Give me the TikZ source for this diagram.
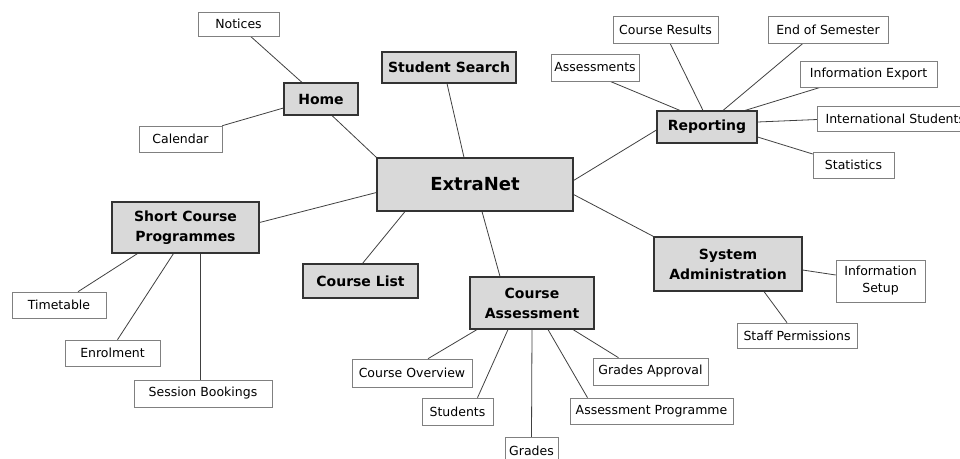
\documentclass[tikz,border=0pt]{standalone}
\usepackage{fontspec}
\setmainfont{DejaVu Sans}
\usetikzlibrary{shadows,backgrounds}
\tikzset{
  boxsize/.style 2 args={minimum width=#1, minimum height=#2},
  topic/.style={draw=black!80, line width=1.1pt, fill=gray!30, inner sep=0pt,
    align=center, font=\bfseries\fontsize{14}{20}\selectfont,
    drop shadow={shadow xshift=1.2pt, shadow yshift=-1.2pt, opacity=1, fill=black}},
  leaf/.style={draw=black!50, line width=0.6pt, fill=white, inner sep=0pt,
    align=center, font=\fontsize{12.5}{17}\selectfont,
    drop shadow={shadow xshift=0.9pt, shadow yshift=-1.2pt, opacity=1, fill=black!85}},
  link/.style={draw=black!75, line width=0.8pt}
}

\begin{document}
\begin{tikzpicture}[x=1pt, y=-1pt]
	\useasboundingbox (0,0) rectangle (960,458);

	\node[topic, boxsize={196}{53}, font=\bfseries\fontsize{18}{22}\selectfont] (extranet) at (475,184.5) {ExtraNet};
	\node[topic, boxsize={134}{31}] (search) at (449,67.5) {Student Search};
	\node[topic, boxsize={74}{32}] (home) at (321,99) {Home};
	\node[leaf, boxsize={81}{24}] (notices) at (238.5,24) {Notices};
	\node[leaf, boxsize={83}{26}] (calendar) at (180.5,139) {Calendar};

	\node[topic, boxsize={100}{32}] (reporting) at (707,127) {Reporting};
	\node[leaf, boxsize={105}{27}] (results) at (665.5,29.5) {Course Results};
	\node[leaf, boxsize={120}{27}] (semester) at (828,29.5) {End of Semester};
	\node[leaf, boxsize={88}{27}] (assessments) at (595,67.5) {Assessments};
	\node[leaf, boxsize={137}{26}] (export) at (868.5,74) {Information Export};
	\node[leaf, boxsize={156}{25}, anchor=west] (international) at (817,118.5) {International Students};
	\node[leaf, boxsize={81}{26}] (statistics) at (853.5,165) {Statistics};

	\node[topic, boxsize={148}{54}] (sysadmin) at (728,264) {System\\Administration};
	\node[leaf, boxsize={89}{42}] (setup) at (880.5,281) {Information\\Setup};
	\node[leaf, boxsize={120}{25}] (staff) at (797,335.5) {Staff Permissions};

	\node[topic, boxsize={124}{52}] (assessment) at (532,303) {Course\\Assessment};
	\node[topic, boxsize={115}{34}] (courselist) at (360.5,281) {Course List};
	\node[leaf, boxsize={120}{28}] (overview) at (412,373) {Course Overview};
	\node[leaf, boxsize={71}{27}] (students) at (457.5,411.5) {Students};
	\node[leaf, boxsize={53}{28}, anchor=north] (grades) at (531.5,437) {Grades};
	\node[leaf, boxsize={115}{27}] (approval) at (650.5,371.5) {Grades Approval};
	\node[leaf, boxsize={163}{26}] (programme) at (651.5,411) {Assessment Programme};

	\node[topic, boxsize={147}{51}] (shortcourse) at (185.5,227.5) {Short Course\\Programmes};
	\node[leaf, boxsize={94}{26}] (timetable) at (59,305) {Timetable};
	\node[leaf, boxsize={95}{26}] (enrolment) at (112.5,353) {Enrolment};
	\node[leaf, boxsize={138}{27}] (bookings) at (203,393.5) {Session Bookings};

	\begin{pgfonlayer}{background}
	\draw[link] ([xshift=-19]home.north) -- ([xshift=12]notices.south);
	\draw[link] ([yshift=-9]home.west) -- (calendar.north east);
	\draw[link] ([xshift=11]home.south) -- (extranet.north west);
	\draw[link] ([xshift=-2]search.south) -- ([xshift=-11]extranet.north);
	\draw[link] ([yshift=4]extranet.east) -- ([yshift=-3]reporting.west);
	\draw[link] ([yshift=-10]extranet.east) -- (sysadmin.north west);
	\draw[link] ([xshift=7]extranet.south) -- ([xshift=-32]assessment.north);
	\draw[link] ([xshift=-70]extranet.south) -- ([xshift=2]courselist.north);
	\draw[link] ([yshift=-8]extranet.west) -- ([yshift=5]shortcourse.east);

	\draw[link] ([xshift=-48]shortcourse.south) -- ([xshift=19]timetable.north);
	\draw[link] ([xshift=-12]shortcourse.south) -- ([xshift=5]enrolment.north);
	\draw[link] ([xshift=14.5]shortcourse.south) -- ([xshift=-3]bookings.north);

	\draw[link] ([xshift=-27]reporting.north) -- ([xshift=15]assessments.south);
	\draw[link] ([xshift=-4]reporting.north) -- ([xshift=4.5]results.south);
	\draw[link] ([xshift=16]reporting.north) -- ([xshift=-25]semester.south);
	\draw[link] ([xshift=38]reporting.north) -- ([xshift=-48]export.south);
	\draw[link] ([yshift=5]reporting.east) -- ([yshift=-1]international.west);
	\draw[link] ([yshift=-10]reporting.east) -- ([yshift=11]statistics.west);

	\draw[link] ([yshift=-6]sysadmin.east) -- ([yshift=6]setup.west);
	\draw[link] ([xshift=36]sysadmin.south) -- ([xshift=-10]staff.north);

	\draw[link] ([xshift=-55]assessment.south) -- ([xshift=16]overview.north);
	\draw[link] ([xshift=-24]assessment.south) -- ([xshift=20]students.north);
	\draw[link] (assessment.south) -- (grades.north);
	\draw[link] ([xshift=16]assessment.south) -- ([xshift=-64]programme.north);
	\draw[link] ([xshift=41]assessment.south) -- ([xshift=-32]approval.north);
	\end{pgfonlayer}
\end{tikzpicture}
\end{document}
